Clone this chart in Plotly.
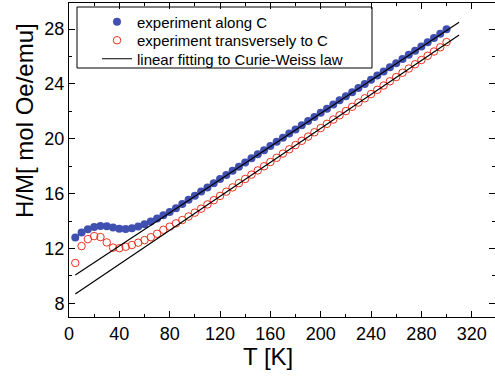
import plotly.graph_objects as go

# Temperature grid (K)
T = [5, 10, 15, 20, 25, 30, 35, 40, 45, 50, 55, 60, 65, 70, 75, 80, 85, 90, 95, 100,
     105, 110, 115, 120, 125, 130, 135, 140, 145, 150, 155, 160, 165, 170, 175, 180, 185, 190, 195, 200,
     205, 210, 215, 220, 225, 230, 235, 240, 245, 250, 255, 260, 265, 270, 275, 280, 285, 290, 295, 300]

# H/M along C (filled blue)
hm_along = [12.80, 13.17, 13.40, 13.56, 13.64, 13.62, 13.52, 13.43, 13.42, 13.48,
            13.60, 13.76, 13.96, 14.18, 14.42, 14.66, 14.93, 15.25, 15.55, 15.85,
            16.15, 16.45, 16.76, 17.06, 17.36, 17.66, 17.96, 18.27, 18.57, 18.87,
            19.17, 19.47, 19.78, 20.08, 20.38, 20.68, 20.98, 21.29, 21.59, 21.89,
            22.19, 22.49, 22.80, 23.10, 23.40, 23.70, 24.00, 24.31, 24.61, 24.91,
            25.21, 25.51, 25.82, 26.12, 26.42, 26.73, 27.03, 27.34, 27.66, 27.98]

# H/M transversely to C (open red)
hm_trans = [10.94, 12.17, 12.68, 12.90, 12.83, 12.44, 12.06, 12.02, 12.12, 12.25,
            12.42, 12.61, 12.82, 13.07, 13.36, 13.59, 13.83, 14.07, 14.33, 14.61,
            14.90, 15.21, 15.52, 15.83, 16.14, 16.45, 16.76, 17.07, 17.38, 17.69,
            17.99, 18.30, 18.61, 18.92, 19.23, 19.54, 19.85, 20.16, 20.47, 20.78,
            21.09, 21.40, 21.71, 22.02, 22.33, 22.64, 22.95, 23.26, 23.57, 23.88,
            24.19, 24.50, 24.81, 25.12, 25.43, 25.74, 26.05, 26.36, 26.67, 27.05]

# Curie-Weiss linear fits (end points)
fit_T = [5, 310]
fit_along = [10.07, 28.49]
fit_trans = [8.68, 27.56]

FONT = "Arial, 'Liberation Sans', sans-serif"

fig = go.Figure()
fig.add_trace(go.Scatter(
    x=T, y=hm_along, mode="markers", name="experiment along C",
    marker=dict(symbol="circle", size=8, color="#4050B0", line=dict(width=0)),
    legend="legend"))
fig.add_trace(go.Scatter(
    x=T, y=hm_trans, mode="markers", name="experiment transversely to C",
    marker=dict(symbol="circle-open", size=7.5, color="#E8321E", line=dict(width=1)),
    legend="legend2"))
fig.add_trace(go.Scatter(
    x=fit_T, y=fit_along, mode="lines", name="linear fitting to Curie-Weiss law",
    line=dict(color="black", width=1.2), legend="legend3"))
fig.add_trace(go.Scatter(
    x=fit_T, y=fit_trans, mode="lines", name="fit transverse", showlegend=False,
    line=dict(color="black", width=1.2)))

W, H = 495, 376
ml, mr, mt, mb = 69, 0, 3, 59
pw, ph = W - ml - mr, H - mt - mb

def px_x(x):
    return (x - ml) / pw

def px_y(y):
    return (H - mb - y) / ph

legend_common = dict(
    xanchor="left", yanchor="middle", bgcolor="rgba(0,0,0,0)", borderwidth=0,
    font=dict(family=FONT, size=15, color="black"),
)

axis_common = dict(
    showline=True, linecolor="black", linewidth=1, mirror="ticks",
    ticks="inside", ticklen=6, tickwidth=1, tickcolor="black",
    showgrid=False, zeroline=False,
    tickfont=dict(family=FONT, size=18, color="black"),
)

fig.update_layout(
    width=W, height=H,
    margin=dict(l=ml, r=mr, t=mt, b=mb),
    paper_bgcolor="white", plot_bgcolor="white",
    font=dict(family=FONT, color="black"),
    xaxis=dict(range=[0, 338.5], tick0=0, dtick=40,
               minor=dict(dtick=20, ticks="inside", ticklen=3, tickcolor="black"),
               **axis_common),
    yaxis=dict(range=[7, 29.9], tick0=0, dtick=4,
               minor=dict(dtick=2, ticks="inside", ticklen=3, tickcolor="black"),
               **axis_common),
    legend=dict(x=px_x(97), y=px_y(22), **legend_common),
    legend2=dict(x=px_x(97), y=px_y(40.5), **legend_common),
    legend3=dict(x=px_x(97), y=px_y(59), **legend_common),
    shapes=[dict(type="rect", xref="paper", yref="paper",
                 x0=px_x(77), x1=px_x(372), y0=px_y(68), y1=px_y(7),
                 line=dict(color="black", width=1), fillcolor="white", layer="below")],
    annotations=[
        dict(text="T [K]", xref="paper", yref="paper", x=px_x(268), y=px_y(356),
             xanchor="center", yanchor="middle", showarrow=False,
             font=dict(family=FONT, size=24, color="black")),
        dict(text="H/M[ mol Oe/emu]", xref="paper", yref="paper", x=px_x(24), y=px_y(121),
             xanchor="center", yanchor="middle", showarrow=False, textangle=-90,
             font=dict(family=FONT, size=24, color="black")),
    ],
)

fig.write_html("out.html")
